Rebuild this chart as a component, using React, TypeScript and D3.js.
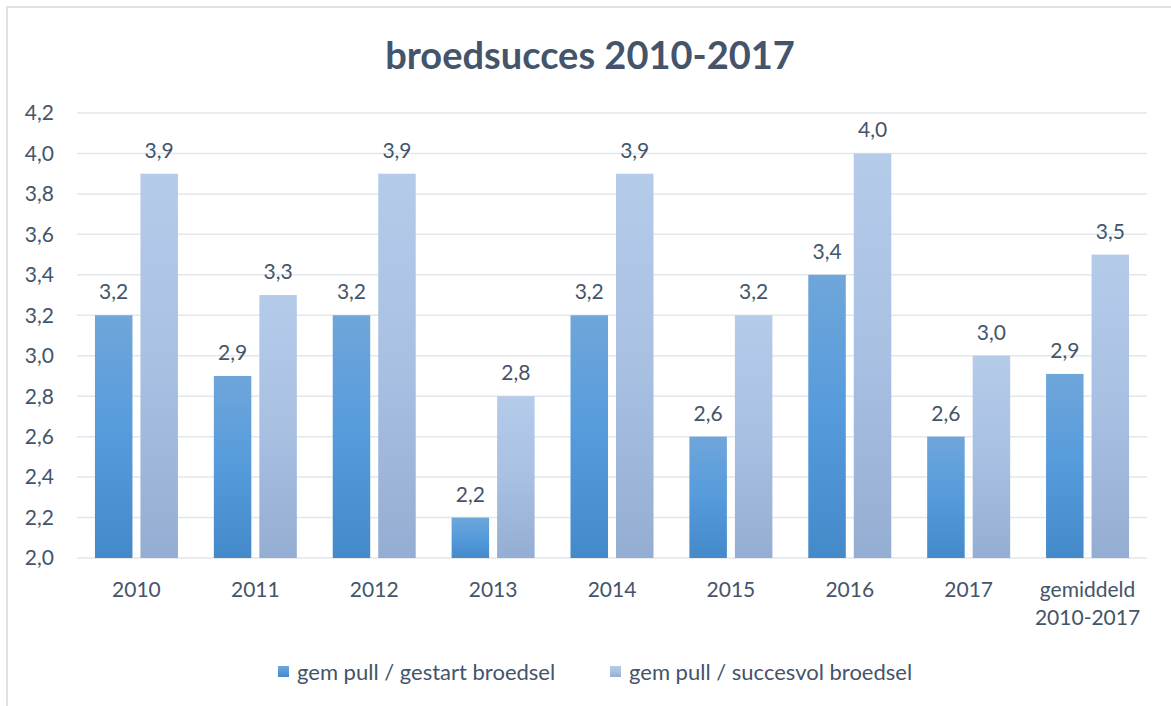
import React, { useEffect, useRef } from 'react';
import * as d3 from 'd3';

const categories = ['2010', '2011', '2012', '2013', '2014', '2015', '2016', '2017', 'gemiddeld\n2010-2017'];
const gestart = [3.2, 2.9, 3.2, 2.2, 3.2, 2.6, 3.4, 2.6, 2.91];
const succesvol = [3.9, 3.3, 3.9, 2.8, 3.9, 3.2, 4.0, 3.0, 3.5];
const seriesNames = ['gem pull / gestart broedsel', 'gem pull / succesvol broedsel'];
const yTicks = [2.0, 2.2, 2.4, 2.6, 2.8, 3.0, 3.2, 3.4, 3.6, 3.8, 4.0, 4.2];

const textColor = '#44546a';
const font = 'Lato, "Noto Sans", sans-serif';

const App = () => {
  const svgRef = useRef<SVGSVGElement>(null);

  useEffect(() => {
    document.body.style.margin = '0';
    if (!svgRef.current) return;
    const width = 1171;
    const height = 706;
    const svg = d3.select(svgRef.current);
    svg.selectAll('*').remove();

    // gradients like Excel's default gradient fill
    const defs = svg.append('defs');
    const g1 = defs.append('linearGradient').attr('id', 'g1').attr('x1', 0).attr('y1', 0).attr('x2', 0).attr('y2', 1);
    g1.append('stop').attr('offset', '0%').attr('stop-color', '#6fa6da');
    g1.append('stop').attr('offset', '50%').attr('stop-color', '#559bdc');
    g1.append('stop').attr('offset', '100%').attr('stop-color', '#4489c8');
    const g2 = defs.append('linearGradient').attr('id', 'g2').attr('x1', 0).attr('y1', 0).attr('x2', 0).attr('y2', 1);
    g2.append('stop').attr('offset', '0%').attr('stop-color', '#b5cbea');
    g2.append('stop').attr('offset', '50%').attr('stop-color', '#a8c0e2');
    g2.append('stop').attr('offset', '100%').attr('stop-color', '#94add2');

    svg.append('rect').attr('width', width).attr('height', height).attr('fill', '#fff');
    // chart border (left and top visible)
    svg.append('path')
      .attr('d', `M7,${height} L7,7 L${width},7`)
      .attr('fill', 'none')
      .attr('stroke', '#dde2e8')
      .attr('stroke-width', 2);

    const x = d3.scaleBand().domain(categories).range([77, 1147]).paddingInner(0).paddingOuter(0);
    const y = d3.scaleLinear().domain([2.0, 4.2]).range([558, 113]);

    // gridlines
    svg.append('g')
      .selectAll('line')
      .data(yTicks)
      .enter()
      .append('line')
      .attr('x1', 77)
      .attr('x2', 1147)
      .attr('y1', d => y(d))
      .attr('y2', d => y(d))
      .attr('stroke', '#e3e6ea')
      .attr('stroke-width', 1.5);

    // y tick labels
    svg.append('g')
      .selectAll('text')
      .data(yTicks)
      .enter()
      .append('text')
      .attr('x', 54)
      .attr('y', d => y(d))
      .attr('dy', '0.35em')
      .attr('text-anchor', 'end')
      .attr('font-family', font)
      .attr('font-size', 21)
      .attr('fill', textColor)
      .text(d => d.toFixed(1).replace('.', ','));

    const barW = 37.5;
    const gap = 8;
    const series = [gestart, succesvol];
    series.forEach((vals, si) => {
      const offset = si === 0 ? -gap / 2 - barW : gap / 2;
      const grp = svg.append('g');
      grp.selectAll('rect')
        .data(vals)
        .enter()
        .append('rect')
        .attr('x', (_, i) => x(categories[i])! + x.bandwidth() / 2 + offset)
        .attr('y', d => y(d))
        .attr('width', barW)
        .attr('height', d => y(2.0) - y(d))
        .attr('fill', `url(#g${si + 1})`);
      grp.selectAll('text')
        .data(vals)
        .enter()
        .append('text')
        .attr('x', (_, i) => x(categories[i])! + x.bandwidth() / 2 + offset + barW / 2)
        .attr('y', d => y(d) - 16)
        .attr('text-anchor', 'middle')
        .attr('font-family', font)
        .attr('font-size', 21)
        .attr('fill', textColor)
        .text(d => d.toFixed(1).replace('.', ','));
    });

    // x labels
    const xl = svg.append('g');
    categories.forEach(c => {
      const lines = c.split('\n');
      lines.forEach((l, li) => {
        xl.append('text')
          .attr('x', x(c)! + x.bandwidth() / 2)
          .attr('y', 597 + li * 28)
          .attr('text-anchor', 'middle')
          .attr('font-family', font)
          .attr('font-size', 21)
          .attr('fill', textColor)
          .text(l);
      });
    });

    // title
    svg.append('text')
      .attr('x', 590)
      .attr('y', 69)
      .attr('text-anchor', 'middle')
      .attr('font-family', font)
      .attr('font-weight', 'bold')
      .attr('font-size', 38)
      .attr('fill', textColor)
      .text('broedsucces 2010-2017');

    // legend
    const legendX = [278, 610];
    seriesNames.forEach((n, i) => {
      svg.append('rect')
        .attr('x', legendX[i])
        .attr('y', 666)
        .attr('width', 11)
        .attr('height', 11)
        .attr('fill', `url(#g${i + 1})`);
      svg.append('text')
        .attr('x', legendX[i] + 19)
        .attr('y', 672)
        .attr('dy', '0.35em')
        .attr('font-family', font)
        .attr('font-size', 22)
        .attr('fill', textColor)
        .text(n);
    });
  }, []);

  return <svg ref={svgRef} width={1171} height={706} style={{ display: 'block' }} />;
};

export default App;
